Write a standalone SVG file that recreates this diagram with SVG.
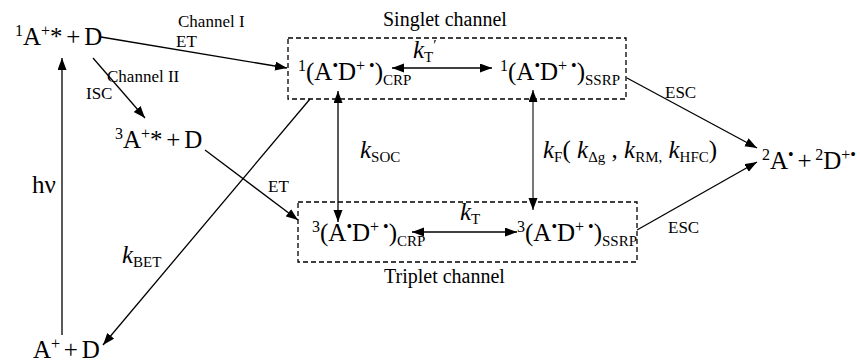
<svg xmlns="http://www.w3.org/2000/svg" width="860" height="364" viewBox="0 0 860 364">
<style>
text{font-family:"Liberation Serif","Times New Roman",serif;fill:#000}
.big{font-size:25px}
.tight{word-spacing:-2.5px}
.sup{font-size:16px}
.sub{font-size:15px}
.lbl{font-size:17px}
.ttl{font-size:20px}
.it{font-style:italic}
.box{fill:none;stroke:#000;stroke-width:1.3;stroke-dasharray:5,3}
.c{fill:none;stroke:#000;stroke-width:1.3}
.g{stroke:#555;stroke-width:1.6}
</style>
<defs>
<marker id="ah" markerUnits="userSpaceOnUse" markerWidth="13" markerHeight="10" refX="12" refY="4.5" orient="auto-start-reverse">
<path d="M0,0 L12,4.5 L0,9 z" fill="#000"/>
</marker>
</defs>
<rect width="860" height="364" fill="#fff"/>

<g id="box_singlet">
<rect class="box" x="288" y="38" width="338" height="61"/>
<text class="ttl" x="383" y="26">Singlet channel</text>
</g>
<g id="box_triplet">
<rect class="box" x="298" y="202" width="339" height="60"/>
<text class="ttl" x="384" y="283">Triplet channel</text>
</g>

<g id="n_1A">
<text class="big tight" x="15" y="45"><tspan class="sup" dy="-9">1</tspan><tspan dy="9">A</tspan><tspan class="sup" dy="-9">+</tspan><tspan dy="9">* + D</tspan></text>
</g>
<g id="n_3A">
<text class="big tight" x="115" y="148"><tspan class="sup" dy="-9">3</tspan><tspan dy="9">A</tspan><tspan class="sup" dy="-9">+</tspan><tspan dy="9">* + D</tspan></text>
</g>
<g id="n_A0">
<text class="big tight" x="33" y="358">A<tspan class="sup" dy="-9">+</tspan><tspan dy="9"> + D</tspan></text>
</g>
<g id="n_crp1">
<text class="big" x="298" y="80"><tspan class="sup" dy="-9">1</tspan><tspan dy="9">(A</tspan><tspan class="sup" dy="-9">•</tspan><tspan dy="9">D</tspan><tspan class="sup" dy="-9">+ •</tspan><tspan dy="9">)</tspan><tspan class="sub" dy="5">CRP</tspan></text>
</g>
<g id="n_ssrp1">
<text class="big" x="500" y="80"><tspan class="sup" dy="-9">1</tspan><tspan dy="9">(A</tspan><tspan class="sup" dy="-9">•</tspan><tspan dy="9">D</tspan><tspan class="sup" dy="-9">+ •</tspan><tspan dy="9">)</tspan><tspan class="sub" dy="5">SSRP</tspan></text>
</g>
<g id="n_crp3">
<text class="big" x="312" y="241"><tspan class="sup" dy="-9">3</tspan><tspan dy="9">(A</tspan><tspan class="sup" dy="-9">•</tspan><tspan dy="9">D</tspan><tspan class="sup" dy="-9">+ •</tspan><tspan dy="9">)</tspan><tspan class="sub" dy="5">CRP</tspan></text>
</g>
<g id="n_ssrp3">
<text class="big" x="517" y="241"><tspan class="sup" dy="-9">3</tspan><tspan dy="9">(A</tspan><tspan class="sup" dy="-9">•</tspan><tspan dy="9">D</tspan><tspan class="sup" dy="-9">+ •</tspan><tspan dy="9">)</tspan><tspan class="sub" dy="5">SSRP</tspan></text>
</g>
<g id="n_products">
<text class="big tight" x="762" y="169"><tspan class="sup" dy="-9">2</tspan><tspan dy="9">A</tspan><tspan class="sup" dy="-9">•</tspan><tspan dy="9"> + </tspan><tspan class="sup" dy="-9">2</tspan><tspan dy="9">D</tspan><tspan class="sup" dy="-9">+•</tspan></text>
</g>

<g id="connectors">
<line class="c" x1="62" y1="335" x2="62" y2="58" marker-end="url(#ah)"/>
<text class="big" x="32" y="193">hν</text>

<line class="c" x1="101" y1="37" x2="287" y2="68" marker-end="url(#ah)"/>
<text class="lbl" x="178" y="27">Channel I</text>
<text class="lbl" x="176" y="47">ET</text>

<line class="c" x1="93" y1="58" x2="145" y2="118" marker-end="url(#ah)"/>
<text class="lbl" x="107" y="82">Channel II</text>
<text class="lbl" x="86" y="99">ISC</text>

<line class="c" x1="205" y1="150" x2="298" y2="220" marker-end="url(#ah)"/>
<text class="lbl" x="268" y="192">ET</text>

<line class="c" x1="310" y1="99" x2="103" y2="345" marker-end="url(#ah)"/>
<text class="big" x="122" y="263"><tspan class="it">k</tspan><tspan class="sub" dy="4">BET</tspan></text>

<line class="c" x1="338" y1="91" x2="338" y2="222" marker-start="url(#ah)" marker-end="url(#ah)"/>
<text class="big" x="360" y="158"><tspan class="it">k</tspan><tspan class="sub" dy="4">SOC</tspan></text>

<line class="c g" x1="533" y1="90" x2="533" y2="210" marker-start="url(#ah)" marker-end="url(#ah)"/>
<text class="big" x="543" y="158"><tspan class="it">k</tspan><tspan class="sub" dy="4">F</tspan><tspan dy="-4">( </tspan><tspan class="it">k</tspan><tspan class="sub" dy="4">Δg</tspan><tspan dy="-4"> , </tspan><tspan class="it">k</tspan><tspan class="sub" dy="4">RM,</tspan><tspan dy="-4">  </tspan><tspan class="it">k</tspan><tspan class="sub" dy="4">HFC</tspan><tspan dy="-4">)</tspan></text>

<line class="c" x1="392" y1="68" x2="492" y2="68" marker-start="url(#ah)" marker-end="url(#ah)"/>
<text class="big" x="413" y="58"><tspan class="it">k</tspan><tspan class="sub" dy="4">T</tspan><tspan class="sub" dy="-12">′</tspan></text>

<line class="c" x1="412" y1="232" x2="517" y2="232" marker-start="url(#ah)" marker-end="url(#ah)"/>
<text class="big" x="460" y="220"><tspan class="it">k</tspan><tspan class="sub" dy="4">T</tspan></text>

<line class="c" x1="627" y1="78" x2="757" y2="148" marker-end="url(#ah)"/>
<text class="lbl" x="665" y="98">ESC</text>

<line class="c" x1="637" y1="230" x2="757" y2="162" marker-end="url(#ah)"/>
<text class="lbl" x="668" y="233">ESC</text>
</g>
</svg>
